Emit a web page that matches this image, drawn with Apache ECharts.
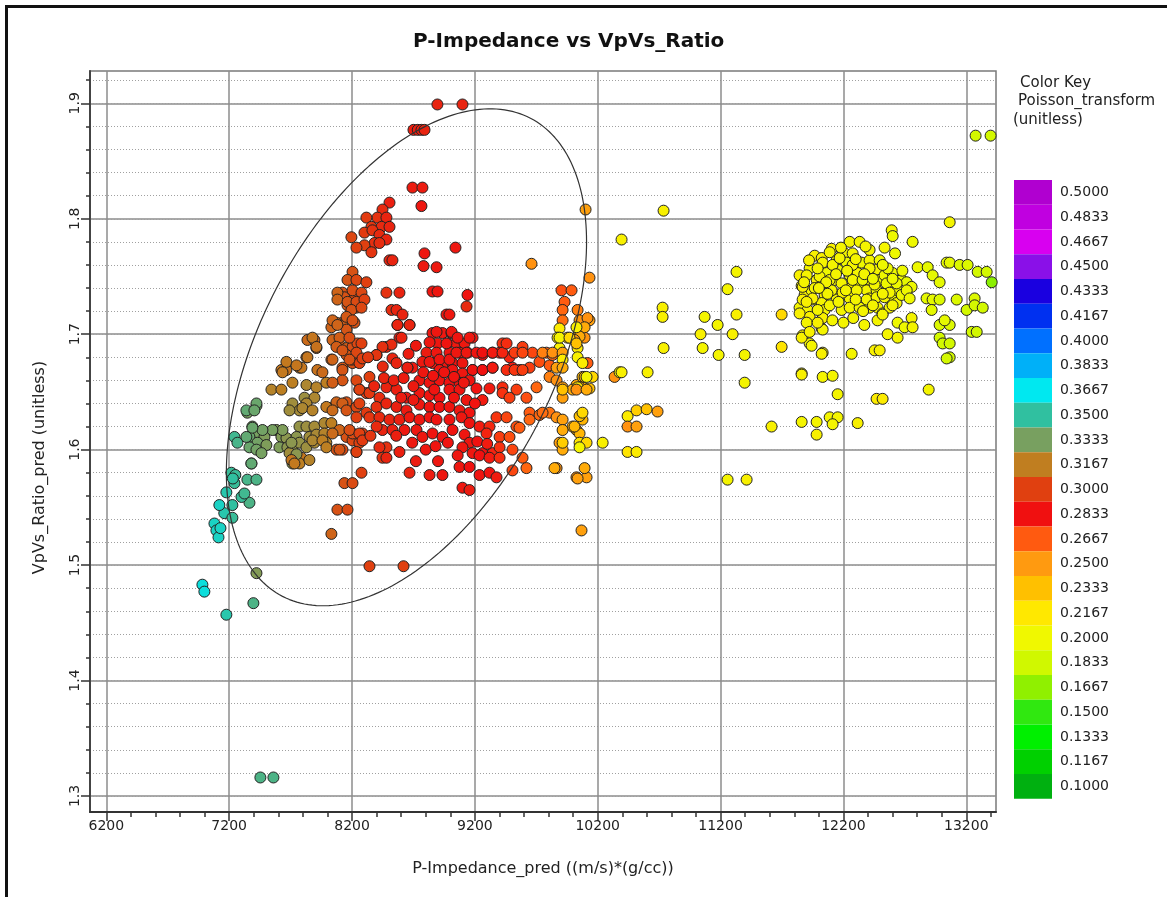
<!DOCTYPE html>
<html>
<head>
<meta charset="utf-8">
<script src="https://cdn.jsdelivr.net/npm/echarts@6/dist/echarts.min.js"></script>
<style>
  html, body { margin: 0; padding: 0; background: #fff; }
  #chart { width: 1167px; height: 897px; }
</style>
</head>
<body>
<div id="chart"></div>
<script>
// Crossplot samples: [P-Impedance_pred, VpVs_Ratio_pred, Poisson_transform]
const cyanPoints = [
  [6982,1.483,0.365],[6998,1.477,0.365],[7177,1.457,0.355],[7397,1.467,0.345],
  [7080,1.536,0.36],[7096,1.530,0.36],[7113,1.524,0.36],[7129,1.532,0.36],[7160,1.545,0.355],
  [7226,1.541,0.35],[7120,1.552,0.36],[7226,1.552,0.352],[7365,1.554,0.345],[7300,1.559,0.35],
  [7177,1.563,0.355],[7324,1.562,0.348],[7243,1.571,0.35],[7218,1.580,0.35],[7348,1.574,0.346],
  [7422,1.574,0.345],[7381,1.588,0.342],[7243,1.611,0.348],[7267,1.606,0.346],[7250,1.578,0.35],
  [7230,1.575,0.352],[7454,1.316,0.345],[7560,1.316,0.345]
];
const olivePoints = [
  [7422,1.493,0.332],
  [7348,1.632,0.335],[7422,1.638,0.335],
  [7389,1.620,0.335],[7430,1.615,0.335],[7487,1.611,0.333],[7365,1.611,0.338],[7430,1.606,0.336],
  [7503,1.604,0.333],[7365,1.602,0.338],[7422,1.600,0.336],[7463,1.597,0.335],[7381,1.588,0.34],
  [7585,1.617,0.332],[7625,1.611,0.332],[7666,1.610,0.33],[7609,1.602,0.333],[7674,1.602,0.33],
  [7715,1.600,0.328],[7772,1.620,0.328],[7748,1.611,0.33],[7772,1.606,0.328],[7691,1.597,0.325],
  [7788,1.593,0.315],[7715,1.588,0.33],[7772,1.588,0.318],[7853,1.591,0.32],
  [7829,1.620,0.326],[7894,1.620,0.324],[7975,1.623,0.322],[7853,1.611,0.325],[7910,1.613,0.323],
  [7829,1.602,0.326],[7894,1.606,0.323],[7975,1.614,0.32],[8032,1.623,0.318],[7991,1.606,0.32],
  [7544,1.652,0.32],[7625,1.652,0.318],[7715,1.658,0.318],[7829,1.656,0.322],[7910,1.654,0.32],
  [7991,1.658,0.318],[7813,1.645,0.326],[7894,1.645,0.322],[8032,1.636,0.315],[7715,1.640,0.325],
  [7772,1.634,0.324],[7829,1.640,0.322],
  [7422,1.640,0.338],[7340,1.634,0.34],[7405,1.634,0.338],
  [7691,1.634,0.325],[7796,1.636,0.322],[7878,1.634,0.32],[7634,1.617,0.333],[7552,1.617,0.335],
  [7471,1.617,0.336],[7389,1.619,0.338],[7340,1.611,0.34],[7707,1.606,0.33],[7748,1.596,0.33],
  [7878,1.608,0.322],[7959,1.608,0.318]
];
const brownPoints = [
  [7625,1.669,0.315],[7666,1.669,0.314],[7772,1.671,0.315],[7918,1.669,0.314],[7959,1.667,0.312],
  [7829,1.680,0.314],[7837,1.695,0.312],[7894,1.695,0.31],[7910,1.688,0.312],[8032,1.678,0.31],
  [8041,1.695,0.31],[8098,1.691,0.308],[8155,1.688,0.308],
  [8122,1.710,0.308],[8073,1.710,0.31],[8220,1.710,0.305],[8032,1.706,0.31],[8155,1.704,0.306],
  [8122,1.736,0.305],[8204,1.732,0.303],[8285,1.730,0.302],[8236,1.723,0.304],[8163,1.725,0.306],
  [8138,1.732,0.305],
  [8073,1.600,0.305],[8122,1.600,0.303],[8236,1.598,0.3],[8155,1.611,0.305],[8204,1.608,0.302],
  [8285,1.611,0.298],[8260,1.606,0.3],
  [8480,1.602,0.295],[8448,1.593,0.296],[7707,1.591,0.315],[7731,1.588,0.316],
  [8204,1.754,0.305],[8163,1.747,0.306],[8236,1.747,0.302],[8317,1.745,0.3],[8081,1.736,0.31],
  [8204,1.738,0.304],[8277,1.736,0.302],[8081,1.730,0.31],[8163,1.728,0.306],[8236,1.728,0.303],
  [8301,1.730,0.3],[8195,1.721,0.305],[8277,1.723,0.302],[8155,1.715,0.307],[8204,1.712,0.305],
  [8041,1.712,0.31],[8081,1.708,0.31],
  [7878,1.697,0.315],[7910,1.689,0.314],[7837,1.680,0.315],[7666,1.676,0.316],[7788,1.671,0.315],
  [8098,1.697,0.308],[8073,1.689,0.308],[8204,1.689,0.304],[8244,1.692,0.302],[8155,1.682,0.306],
  [8204,1.675,0.304],[8122,1.671,0.306],
  [7634,1.667,0.316],[7748,1.673,0.315],[8041,1.678,0.31],[8122,1.669,0.306],[8204,1.678,0.303],
  [8260,1.675,0.3],
  [8073,1.641,0.31],[8155,1.641,0.305],[8260,1.652,0.3],[8317,1.649,0.298],
  [7991,1.637,0.316],[8041,1.634,0.312],[8122,1.640,0.308],[8155,1.634,0.306],[8236,1.637,0.302],
  [8317,1.632,0.298],
  [7991,1.602,0.318],[8098,1.617,0.31],[8041,1.614,0.312],[8204,1.614,0.303],[8285,1.614,0.3],
  [8277,1.580,0.3],[8138,1.571,0.305],[8204,1.571,0.303],[8081,1.548,0.305],[8163,1.548,0.303],
  [8032,1.527,0.31],[8342,1.499,0.3],[8619,1.499,0.3]
];
const redPoints = [
  [8895,1.899,0.29],[9099,1.899,0.29],
  [8700,1.877,0.288],[8735,1.877,0.288],[8765,1.877,0.288],[8790,1.877,0.29],
  [8692,1.827,0.287],[8773,1.827,0.287],[8765,1.811,0.285],[8505,1.814,0.288],
  [8448,1.808,0.292],[8407,1.801,0.295],[8317,1.801,0.298],[8480,1.801,0.29],[8358,1.793,0.296],
  [8440,1.793,0.292],[8505,1.793,0.29],[8301,1.788,0.298],[8366,1.790,0.295],[8423,1.786,0.292],
  [8480,1.782,0.29],[8383,1.779,0.294],[8301,1.777,0.3],[8195,1.784,0.302],[8236,1.775,0.3],
  [8358,1.771,0.296],[8423,1.779,0.293],[8505,1.764,0.29],[8529,1.764,0.29],
  [8790,1.770,0.285],[8782,1.759,0.286],[8888,1.758,0.286],[9042,1.775,0.285],
  [8480,1.736,0.295],[8586,1.736,0.29],[8521,1.721,0.293],[8562,1.721,0.29],[8611,1.717,0.29],
  [8570,1.708,0.292],[8668,1.708,0.288],
  [8855,1.737,0.285],[8896,1.737,0.285],[9140,1.734,0.284],[9132,1.724,0.292],[8969,1.717,0.285],
  [8993,1.717,0.285],
  [8399,1.682,0.292],[8480,1.689,0.29],[8586,1.697,0.288],[8692,1.671,0.286],[8529,1.679,0.29],
  [8651,1.671,0.287],
  [8855,1.701,0.285],[8936,1.701,0.285],[9010,1.701,0.286],[8896,1.692,0.285],[8977,1.692,0.284],
  [9050,1.692,0.286],[9116,1.692,0.286],[9181,1.697,0.285],[8806,1.684,0.287],[8888,1.684,0.285],
  [8993,1.684,0.284],[9075,1.684,0.285],[9140,1.684,0.286],[8855,1.675,0.285],[8936,1.673,0.285],
  [9018,1.675,0.284],[9099,1.675,0.285],[9181,1.669,0.285],[9262,1.669,0.287],[9344,1.671,0.288],
  [9425,1.692,0.275],[9482,1.680,0.278],[9506,1.671,0.28],[9588,1.689,0.272],[9669,1.684,0.27],
  [9726,1.676,0.268],[9808,1.673,0.265],[9645,1.671,0.272],[9563,1.669,0.276],[9783,1.684,0.265],
  [9832,1.682,0.262],[9344,1.684,0.282],[9262,1.682,0.283],[9401,1.684,0.28],
  [8570,1.708,0.29],[8668,1.708,0.29],[8888,1.702,0.285],[9010,1.702,0.285],[9059,1.697,0.284],
  [9156,1.697,0.285],[8831,1.693,0.285],[8969,1.692,0.284],[8603,1.697,0.29],[8521,1.691,0.292],
  [8448,1.689,0.294],[8399,1.682,0.296],[8277,1.692,0.3],[8179,1.697,0.304],[8122,1.686,0.306],
  [8236,1.684,0.302],[8179,1.678,0.305],[8285,1.679,0.3],
  [8773,1.676,0.286],[8831,1.676,0.285],[8912,1.678,0.284],[8993,1.678,0.284],[9050,1.684,0.285],
  [9132,1.684,0.285],[9213,1.684,0.284],[8651,1.671,0.288],[8562,1.675,0.29],[8912,1.669,0.284],
  [9018,1.669,0.284],[9099,1.666,0.285],[9181,1.669,0.284],[9262,1.669,0.283],[9344,1.671,0.28],
  [9458,1.669,0.276],[9523,1.669,0.274],[9588,1.669,0.272],[9262,1.684,0.283],[9344,1.684,0.28],
  [9425,1.684,0.278],[9458,1.692,0.276],[9523,1.684,0.272],[9588,1.684,0.27],
  [8749,1.660,0.285],[8831,1.658,0.284],[8912,1.660,0.284],[8993,1.658,0.283],[9075,1.658,0.284],
  [9156,1.660,0.284],[9213,1.653,0.282],[9319,1.653,0.28],[9425,1.654,0.276],[9539,1.652,0.272],
  [9620,1.645,0.268],[9702,1.654,0.262],
  [8342,1.663,0.3],[8236,1.660,0.302],[8122,1.660,0.306],[8041,1.658,0.308],[8260,1.652,0.3],
  [8342,1.649,0.297],[8423,1.645,0.293],[8480,1.654,0.29],[8562,1.652,0.288],[8643,1.645,0.286],
  [8749,1.649,0.285],[8831,1.647,0.284],[8912,1.645,0.283],[8993,1.652,0.284],[9075,1.652,0.284],
  [9132,1.643,0.285],[9262,1.643,0.28],[9425,1.649,0.275],[9482,1.645,0.272],
  [9645,1.632,0.265],[9726,1.630,0.262],[9808,1.632,0.258],
  [8260,1.640,0.3],[8399,1.637,0.294],[8480,1.640,0.29],[8562,1.637,0.288],[8643,1.634,0.286],
  [8749,1.639,0.285],[8831,1.637,0.284],[8912,1.637,0.283],[8993,1.637,0.284],[9075,1.634,0.285],
  [9156,1.632,0.284],[8236,1.628,0.3],[8342,1.628,0.296],[8423,1.628,0.292],[8505,1.626,0.29],
  [8586,1.626,0.288],[8668,1.628,0.286],[8749,1.626,0.285],[8831,1.628,0.284],[8888,1.626,0.284],
  [8993,1.626,0.284],[9091,1.628,0.285],[9156,1.623,0.284],[9238,1.620,0.28],[9319,1.620,0.277],
  [9376,1.628,0.274],[9458,1.628,0.27],[9539,1.620,0.268],[9645,1.626,0.262],[9751,1.632,0.26],
  [8179,1.617,0.304],[8260,1.614,0.3],[8285,1.608,0.298],[8448,1.617,0.29],[8529,1.617,0.288],
  [8627,1.617,0.286],[8725,1.617,0.285],[8773,1.611,0.285],[8855,1.614,0.284],[8936,1.611,0.284],
  [9018,1.617,0.284],[9116,1.613,0.285],[9156,1.606,0.285],[9295,1.614,0.278],[9401,1.611,0.272],
  [9482,1.611,0.268],[9563,1.619,0.265],
  [8098,1.600,0.306],[8236,1.598,0.3],[8423,1.602,0.292],[8480,1.593,0.29],[8586,1.598,0.288],
  [9099,1.602,0.285],[9181,1.597,0.285],[9262,1.597,0.283],[9344,1.597,0.278],[9401,1.602,0.275],
  [9506,1.600,0.27],[9588,1.593,0.265],
  [8668,1.580,0.29],[8831,1.578,0.287],[8936,1.578,0.285],[9075,1.585,0.285],[9156,1.585,0.283],
  [9238,1.578,0.284],[9319,1.580,0.282],[9376,1.576,0.28],[9506,1.582,0.27],[9620,1.584,0.262],
  [9099,1.567,0.285],[9156,1.565,0.287],[9238,1.595,0.283],[9319,1.593,0.28],[9401,1.593,0.276],
  [8380,1.655,0.29],[8460,1.662,0.29],[8540,1.660,0.288],[8620,1.662,0.287],[8700,1.655,0.286],
  [8780,1.667,0.285],[8860,1.664,0.284],[8950,1.667,0.284],[9030,1.663,0.284],[9110,1.658,0.285],
  [8700,1.643,0.286],[8870,1.652,0.284],[9030,1.645,0.284],[9200,1.640,0.282],[8400,1.620,0.292],
  [8560,1.612,0.288],[8690,1.606,0.286],[8800,1.600,0.285],[8880,1.603,0.284],[8980,1.606,0.284],
  [9060,1.595,0.285],[9220,1.607,0.283],[9300,1.605,0.28],[8720,1.590,0.287],[8900,1.590,0.285],
  [8600,1.645,0.287],[8350,1.612,0.296],[8330,1.680,0.298],[8450,1.672,0.292],[8720,1.690,0.286],
  [8660,1.683,0.287]
];
const orangePoints = [
  [10101,1.808,0.245],[9661,1.761,0.25],[10133,1.749,0.25],
  [9905,1.738,0.268],[9987,1.738,0.265],[9930,1.728,0.265],[9914,1.721,0.262],[10036,1.721,0.255],
  [9914,1.712,0.26],[10052,1.712,0.25],[10133,1.712,0.245],
  [9889,1.705,0.21],[10036,1.705,0.22],[9873,1.697,0.21],[9954,1.697,0.23],[10027,1.697,0.24],
  [10093,1.697,0.25],[10036,1.688,0.21],[9889,1.688,0.205],
  [9751,1.684,0.255],[9832,1.684,0.25],[9914,1.684,0.245],
  [9808,1.663,0.255],[9865,1.660,0.25],[9914,1.654,0.245],[10027,1.656,0.24],[10076,1.663,0.235],
  [9914,1.645,0.245],[9995,1.652,0.24],[10076,1.654,0.235],
  [9865,1.628,0.25],[9914,1.626,0.245],[10027,1.617,0.24],[10076,1.626,0.235],
  [9889,1.606,0.245],[9914,1.600,0.24],[9995,1.620,0.24],[10052,1.614,0.235],
  [9865,1.584,0.25],[10027,1.576,0.25],[10109,1.576,0.245],[10093,1.584,0.24],
  [10337,1.663,0.25],
  [10443,1.629,0.21],[10516,1.634,0.225],[10598,1.635,0.23],[10687,1.633,0.245],[10443,1.620,0.25],
  [10516,1.620,0.245],[10443,1.598,0.215],[10516,1.598,0.21],
  [10036,1.575,0.245],[10052,1.629,0.23],[10011,1.620,0.235],[10052,1.606,0.215],[9914,1.606,0.225],
  [10068,1.530,0.245],
  [10117,1.714,0.25],[10093,1.706,0.24],[10052,1.698,0.24],[10011,1.695,0.245],[10117,1.675,0.265],
  [10093,1.663,0.23],[10052,1.654,0.24],
  [10158,1.663,0.22],[10036,1.654,0.21],[10133,1.653,0.23],
  [10109,1.606,0.22],[9848,1.584,0.24],
  [10027,1.706,0.205],[9889,1.697,0.2],[9970,1.697,0.22],[10027,1.692,0.23],[9914,1.678,0.21],
  [10036,1.680,0.205],[9865,1.671,0.245],[9914,1.671,0.24],[10076,1.675,0.21],[10109,1.663,0.2],
  [9914,1.652,0.23],[10027,1.652,0.25],[10109,1.652,0.24],[10076,1.632,0.22],[9914,1.617,0.24],
  [10052,1.602,0.2]
];
const yellowPoints = [
  [10394,1.782,0.205],[10378,1.667,0.2],[10394,1.667,0.205],[10606,1.667,0.205],[10240,1.606,0.205],
  [10736,1.807,0.205],[11330,1.754,0.2],[11257,1.739,0.2],[10728,1.723,0.205],[10728,1.715,0.205],
  [11070,1.715,0.2],[11330,1.717,0.205],[11697,1.717,0.22],[11176,1.708,0.2],[11037,1.700,0.205],
  [11298,1.700,0.205],[10736,1.688,0.205],[11054,1.688,0.2],[11184,1.682,0.2],[11396,1.682,0.2],
  [11697,1.689,0.215],[11396,1.658,0.2],[11860,1.666,0.205],[12031,1.663,0.2],[12112,1.664,0.2],
  [12153,1.648,0.2],[12267,1.683,0.2],[12454,1.686,0.205],[12495,1.686,0.205],[12470,1.644,0.21],
  [12519,1.644,0.21],[12894,1.652,0.2],[11615,1.620,0.205],[11860,1.624,0.2],[11982,1.624,0.2],
  [11982,1.613,0.205],[12088,1.628,0.2],[12153,1.628,0.2],[12112,1.622,0.2],[12316,1.623,0.205],
  [11257,1.574,0.2],[11412,1.574,0.205],
  [13065,1.797,0.2],[12593,1.790,0.2],[12601,1.785,0.195],[12763,1.780,0.195],[12251,1.780,0.2],
  [12332,1.780,0.2],[12104,1.774,0.205],[12193,1.771,0.2],[12535,1.775,0.2],[11966,1.768,0.205],
  [12023,1.766,0.205],
  [11843,1.751,0.205],[11860,1.742,0.2],[11884,1.734,0.205],[11843,1.723,0.2],[11925,1.757,0.2],
  [11982,1.747,0.205],[11941,1.738,0.2],[11949,1.730,0.205],[11909,1.721,0.2],[11925,1.715,0.205],
  [12031,1.762,0.2],[12063,1.753,0.195],[12031,1.744,0.2],[12047,1.734,0.205],[12023,1.727,0.2],
  [12047,1.721,0.2],[12031,1.714,0.205],[12145,1.764,0.2],[12153,1.756,0.195],[12128,1.747,0.2],
  [12112,1.736,0.205],[12145,1.730,0.2],[12185,1.721,0.2],[12210,1.770,0.2],[12226,1.762,0.195],
  [12251,1.751,0.2],[12267,1.741,0.205],[12251,1.731,0.2],[12291,1.736,0.2],[12332,1.742,0.195],
  [12316,1.753,0.2],[12348,1.762,0.195],[12413,1.764,0.2],[12430,1.756,0.195],[12413,1.747,0.2],
  [12389,1.738,0.2],[12413,1.731,0.205],[12413,1.723,0.2],[12495,1.764,0.195],[12478,1.756,0.2],
  [12495,1.747,0.195],[12470,1.738,0.2],[12478,1.723,0.2],[12535,1.751,0.195],[12560,1.741,0.2],
  [12593,1.731,0.195],[12519,1.718,0.2],[12601,1.753,0.195],[12641,1.738,0.195],[12674,1.747,0.195],
  [12715,1.745,0.19],[12755,1.741,0.195],[12633,1.727,0.2],[12576,1.723,0.2],
  [11901,1.751,0.2],[11868,1.741,0.205],[11966,1.740,0.2],[12006,1.750,0.2],[12088,1.747,0.2],
  [12104,1.738,0.2],[12185,1.744,0.2],[12193,1.736,0.205],[12275,1.747,0.2],[12308,1.738,0.2],
  [12356,1.747,0.195],[12389,1.730,0.2],[12454,1.743,0.2],[12470,1.732,0.2],[12535,1.732,0.2],
  [12551,1.744,0.195],[12633,1.744,0.195],[12560,1.757,0.195],[12413,1.757,0.2],[12275,1.760,0.2],
  [12112,1.760,0.2],[11949,1.731,0.205],[11868,1.730,0.205],[11990,1.721,0.2],[12088,1.725,0.2],
  [12251,1.723,0.2],[12332,1.723,0.2],[12478,1.712,0.2],[12576,1.736,0.2],[12674,1.734,0.195],
  [12715,1.738,0.195],[12739,1.731,0.195],[12413,1.773,0.2],[12275,1.770,0.2],[12088,1.771,0.2],
  [12169,1.766,0.2],
  [11843,1.718,0.205],[11901,1.710,0.2],[11868,1.699,0.205],[11925,1.692,0.2],[12023,1.705,0.2],
  [12031,1.684,0.205],[12023,1.683,0.205],[11860,1.697,0.205],[11941,1.690,0.2],[11925,1.702,0.205],
  [12031,1.704,0.2],[11860,1.665,0.205],[12519,1.717,0.2],
  [11880,1.745,0.2],[11920,1.764,0.205],[11990,1.757,0.2],[12060,1.745,0.2],[12140,1.752,0.2],
  [12230,1.755,0.2],[12300,1.765,0.2],[12370,1.752,0.2],[12440,1.748,0.195],[12520,1.760,0.195],
  [12600,1.748,0.195],[12680,1.755,0.195],[12160,1.728,0.2],[12220,1.738,0.2],[12300,1.730,0.2],
  [12360,1.720,0.2],[12440,1.725,0.2],[12520,1.735,0.2],[12600,1.725,0.2],[12070,1.735,0.2],
  [11990,1.710,0.205],[12110,1.712,0.2],[12200,1.710,0.2],[12280,1.714,0.2],[12370,1.708,0.2],
  [11900,1.728,0.205],[12000,1.740,0.2],[12180,1.775,0.2],[12380,1.776,0.2],[12620,1.770,0.195],
  [12804,1.758,0.195],[12886,1.758,0.19],[12926,1.751,0.19],[12983,1.745,0.19],
  [13040,1.762,0.19],[13065,1.762,0.19],[13146,1.760,0.185],[13211,1.760,0.185],
  [13293,1.754,0.18],[13366,1.754,0.18],[13407,1.745,0.16],
  [12877,1.731,0.19],[12926,1.730,0.19],[12983,1.730,0.185],[12918,1.721,0.19],
  [13122,1.730,0.185],[13203,1.721,0.18],[13268,1.731,0.185],[13268,1.725,0.18],[13334,1.723,0.18],
  [12641,1.710,0.195],[12698,1.706,0.195],[12755,1.714,0.2],[12763,1.706,0.2],
  [12560,1.700,0.2],[12641,1.697,0.2],
  [12983,1.708,0.185],[13065,1.708,0.185],[13024,1.712,0.19],
  [13244,1.702,0.18],[13285,1.702,0.18],
  [12983,1.697,0.18],[13008,1.692,0.18],[13065,1.692,0.18],
  [13065,1.680,0.18],[13040,1.679,0.18],
  [13276,1.872,0.18],[13398,1.872,0.18]
];

// Hand-drawn selection ellipse in data units: centre and two conjugate semi-axes
const ellipseCenter = [8643, 1.680];
const ellipseAxisU = [1466, 0.100];
const ellipseAxisV = [0, 0.1906];

// Axis ranges and ticks
const xRange = [6067, 13442];
const yRange = [1.2861, 1.928];
const xMajorTicks = [6200, 7200, 8200, 9200, 10200, 11200, 12200, 13200];
const xMinorTicks = [6200,6400,6600,6800,7000,7200,7400,7600,7800,8000,8200,8400,8600,8800,9000,9200,
  9400,9600,9800,10000,10200,10400,10600,10800,11000,11200,11400,11600,11800,12000,12200,12400,12600,
  12800,13000,13200,13400];
const yMajorTicks = [1.3, 1.4, 1.5, 1.6, 1.7, 1.8, 1.9];
const yMinorTicks = [1.30,1.32,1.34,1.36,1.38,1.40,1.42,1.44,1.46,1.48,1.50,1.52,1.54,1.56,1.58,1.60,
  1.62,1.64,1.66,1.68,1.70,1.72,1.74,1.76,1.78,1.80,1.82,1.84,1.86,1.88,1.90,1.92];

// Colour key levels (top to bottom) and their colours
const keyLevels = ['0.5000','0.4833','0.4667','0.4500','0.4333','0.4167','0.4000','0.3833','0.3667',
  '0.3500','0.3333','0.3167','0.3000','0.2833','0.2667','0.2500','0.2333','0.2167','0.2000','0.1833',
  '0.1667','0.1500','0.1333','0.1167','0.1000'];
const keyColors = ['#b000d0','#c000e0','#d800f0','#8a10e8','#1a00e0','#0030f0','#0070ff','#00b0f8',
  '#00e8f0','#30c0a0','#78a060','#c07e20','#e04010','#f01010','#ff5a10','#ff9a10','#ffc000','#ffe800',
  '#f0f800','#d0f800','#90f000','#30e810','#00f000','#00d000','#00b010'];

const FONT = 'DejaVu Sans';
const half = 1 / 120;

const allPoints = [].concat(cyanPoints, olivePoints, brownPoints, redPoints, orangePoints, yellowPoints);

const ellipse = [];
for (let i = 0; i <= 240; i++) {
  const t = (i / 240) * Math.PI * 2;
  const c = Math.cos(t), s = Math.sin(t);
  ellipse.push([
    ellipseCenter[0] + ellipseAxisU[0] * c + ellipseAxisV[0] * s,
    ellipseCenter[1] + ellipseAxisU[1] * c + ellipseAxisV[1] * s
  ]);
}

const keyPieces = keyLevels.map((s, i) => {
  const v = parseFloat(s);
  return { gt: v - half, lte: v + half, label: s, color: keyColors[i] };
});

const headerStyle = { fontFamily: FONT, fontSize: 15, fontWeight: 'normal', color: '#222' };

const chart = echarts.init(document.getElementById('chart'), null, { renderer: 'canvas' });
chart.setOption({
  backgroundColor: '#ffffff',
  animation: false,
  textStyle: { fontFamily: FONT },
  title: [
    { text: 'P-Impedance vs VpVs_Ratio', left: 413, top: 32, padding: 0,
      textStyle: { fontFamily: FONT, fontSize: 20, fontWeight: 'bold', color: '#111' } },
    { text: 'Color Key', left: 1020, top: 76, padding: 0, textStyle: headerStyle },
    { text: 'Poisson_transform', left: 1018, top: 94, padding: 0, textStyle: headerStyle },
    { text: '(unitless)', left: 1013, top: 113, padding: 0, textStyle: headerStyle }
  ],
  graphic: [
    { type: 'rect', left: 4, top: 4, silent: true, z: -10,
      shape: { width: 1300, height: 1000 },
      style: { fill: 'none', stroke: '#111', lineWidth: 3 } }
  ],
  grid: {
    left: 90, top: 71, width: 906, height: 741,
    show: true, borderColor: '#7a7a7a', borderWidth: 1.5, backgroundColor: '#fff'
  },
  xAxis: [
    {
      type: 'value', position: 'bottom', min: xRange[0], max: xRange[1],
      name: 'P-Impedance_pred ((m/s)*(g/cc))', nameLocation: 'middle', nameGap: 49,
      nameTextStyle: { fontFamily: FONT, fontSize: 16, color: '#222' },
      axisLine: { show: true, lineStyle: { color: '#333', width: 2 } },
      axisTick: { show: true, customValues: xMajorTicks, length: 9, lineStyle: { color: '#333', width: 1.5 } },
      axisLabel: { customValues: xMajorTicks, formatter: v => String(v), fontSize: 14, color: '#222', margin: 7 },
      splitLine: { show: true, lineStyle: { color: '#8c8c8c', width: 1.5 } }
    },
    {
      type: 'value', position: 'bottom', min: xRange[0], max: xRange[1],
      axisLine: { show: false },
      axisTick: { show: true, customValues: xMinorTicks, length: 5, lineStyle: { color: '#333', width: 1.5 } },
      axisLabel: { show: false },
      splitLine: { show: false }
    }
  ],
  yAxis: [
    {
      type: 'value', position: 'left', min: yRange[0], max: yRange[1],
      name: 'VpVs_Ratio_pred (unitless)', nameLocation: 'middle', nameGap: 42, nameRotate: 90,
      nameTextStyle: { fontFamily: FONT, fontSize: 16, color: '#222', padding: [0, 52, 0, 0] },
      axisLine: { show: true, lineStyle: { color: '#444', width: 2 } },
      axisTick: { show: true, customValues: yMajorTicks, length: 9, lineStyle: { color: '#333', width: 1.5 } },
      axisLabel: { customValues: yMajorTicks, rotate: 90, fontSize: 14, color: '#222', margin: 8 },
      splitLine: { show: true, lineStyle: { color: '#8c8c8c', width: 1.5 } }
    },
    {
      type: 'value', position: 'left', min: yRange[0], max: yRange[1],
      axisLine: { show: false },
      axisTick: { show: true, customValues: yMinorTicks, length: 4, lineStyle: { color: '#333', width: 1.5 } },
      axisLabel: { show: false },
      splitLine: { show: true, lineStyle: { color: '#a0a0a0', width: 1, type: [1, 2] } }
    }
  ],
  visualMap: [
    {
      type: 'continuous', show: false, seriesIndex: 0, dimension: 2,
      min: 0.1 - half, max: 0.5 + half,
      inRange: { color: keyColors.slice().reverse() }
    },
    {
      type: 'piecewise', seriesIndex: 2, orient: 'vertical', align: 'left',
      left: 1014, top: 180, padding: 0, itemWidth: 38, itemHeight: 24.75, itemGap: 0,
      itemSymbol: 'rect', textGap: 8, selectedMode: false, hoverLink: false,
      textStyle: { fontFamily: FONT, fontSize: 14, color: '#222' },
      pieces: keyPieces
    }
  ],
  series: [
    {
      type: 'scatter', xAxisIndex: 0, yAxisIndex: 0,
      symbol: 'circle', symbolSize: 11,
      itemStyle: { borderColor: '#222', borderWidth: 1, opacity: 1 },
      data: allPoints, z: 3, silent: true
    },
    {
      type: 'line', xAxisIndex: 0, yAxisIndex: 0, data: ellipse,
      showSymbol: false, symbol: 'none', smooth: false, silent: true,
      lineStyle: { color: '#333', width: 1.2 }, z: 4
    },
    {
      type: 'scatter', xAxisIndex: 0, yAxisIndex: 0, data: [], silent: true
    }
  ]
});
</script>
</body>
</html>
